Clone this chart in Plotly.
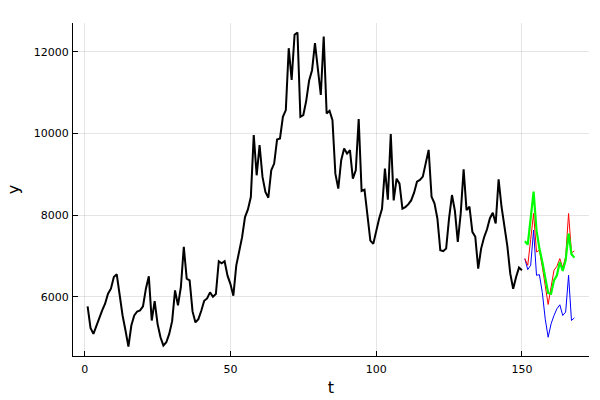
import numpy as np
import plotly.graph_objects as go

# observed series, t = 1..150
t_obs = list(range(1, 151))
y_obs = [
    5762, 5238, 5090, 5295, 5484, 5664, 5828, 6074, 6197, 6484,
    6549, 6033, 5541, 5172, 4779, 5295, 5541, 5639, 5664, 5762,
    6197, 6500, 5418, 5893, 5336, 5008, 4803, 4885, 5090, 5402,
    6156, 5787, 6238, 7221, 6443, 6400, 5640, 5370, 5451, 5656,
    5902, 5959, 6107, 6000, 6066, 6869, 6820, 6869, 6516, 6311,
    6025, 6762, 7090, 7459, 7951, 8139, 8443, 9959, 8976, 9713,
    8935, 8566, 8426, 9098, 9262, 9852, 9877, 10410, 10574, 12090,
    11312, 12418, 12476, 10410, 10451, 10800, 11300, 11550, 12213, 11500,
    10943, 12377, 10492, 10557, 10328, 9016, 8648, 9344, 9631, 9508,
    9590, 8893, 9098, 10352, 8590, 8623, 7951, 7377, 7295, 7623,
    7910, 8156, 9139, 8377, 9984, 8361, 8893, 8770, 8156, 8197,
    8262, 8360, 8550, 8820, 8861, 8943, 9254, 9598, 8451, 8287,
    7918, 7139, 7115, 7180, 7918, 8492, 8107, 7344, 8041, 9123,
    8123, 8205, 7590, 7467, 6688, 7180, 7451, 7648, 7918, 8057,
    7795, 8877, 8205, 7672, 7238, 6566, 6197, 6484, 6713, 6648,
]

# forecast horizon, t = 151..168
t_fc = list(range(151, 169))
y_green = [7361, 7279, 7918, 8574, 7631, 7180, 6852, 6443, 6090, 6074,
           6402, 6525, 6852, 6631, 6893, 7549, 7041, 6959]
y_red = [6934, 6770, 7402, 8041, 7098, 7139, 6729, 6320, 5811, 6238,
         6648, 6746, 6934, 6713, 6975, 8041, 7074, 7123]
y_blue = [6934, 6664, 6770, 7631, 6525, 6541, 6100, 5450, 5008, 5336,
          5541, 5705, 5803, 5541, 5623, 6525, 5418, 5484]

x_ticks = [0, 50, 100, 150]
y_ticks = [6000, 8000, 10000, 12000]

fig = go.Figure()
fig.add_trace(go.Scatter(x=t_obs, y=y_obs, mode="lines",
                         line=dict(color="#000000", width=2)))
fig.add_trace(go.Scatter(x=t_fc, y=y_blue, mode="lines",
                         line=dict(color="#0000ff", width=1)))
fig.add_trace(go.Scatter(x=t_fc, y=y_red, mode="lines",
                         line=dict(color="#ff0000", width=1)))
fig.add_trace(go.Scatter(x=t_fc, y=y_green, mode="lines",
                         line=dict(color="#00ff00", width=2.2)))

all_x = np.array(t_obs + t_fc, dtype=float)
all_y = np.array(y_obs + y_green + y_red + y_blue, dtype=float)
xpad = 0.03 * (all_x.max() - all_x.min())
ypad = 0.03 * (all_y.max() - all_y.min())

font = "DejaVu Sans"
fig.update_layout(
    width=600, height=400,
    margin=dict(l=73, r=11, t=23, b=44),
    paper_bgcolor="white", plot_bgcolor="white",
    showlegend=False,
    font=dict(family=font, color="black"),
)
axis_common = dict(
    showline=True, linecolor="black", linewidth=1, mirror=False,
    showgrid=True, gridcolor="rgba(0,0,0,0.1)", gridwidth=0.5,
    zeroline=False, ticks="inside", ticklen=5, tickcolor="black",
    tickfont=dict(family=font, size=11, color="black"),
)
fig.update_xaxes(
    range=[all_x.min() - xpad, all_x.max() + xpad],
    tickvals=x_ticks, ticktext=[str(v) for v in x_ticks],
    ticklabelstandoff=3, automargin=False,
    title=dict(text="t", font=dict(family=font, size=16), standoff=6),
    **axis_common,
)
fig.update_yaxes(
    range=[all_y.min() - ypad, all_y.max() + ypad],
    tickvals=y_ticks, ticktext=[str(v) for v in y_ticks],
    ticklabelstandoff=1, automargin=True,
    title=dict(text="y", font=dict(family=font, size=16), standoff=10),
    **axis_common,
)

# remove the default 8px page margin so the figure sits at the window origin
fig.write_html("out.html", config={"displayModeBar": False},
               post_script="document.body.style.margin='0';")
